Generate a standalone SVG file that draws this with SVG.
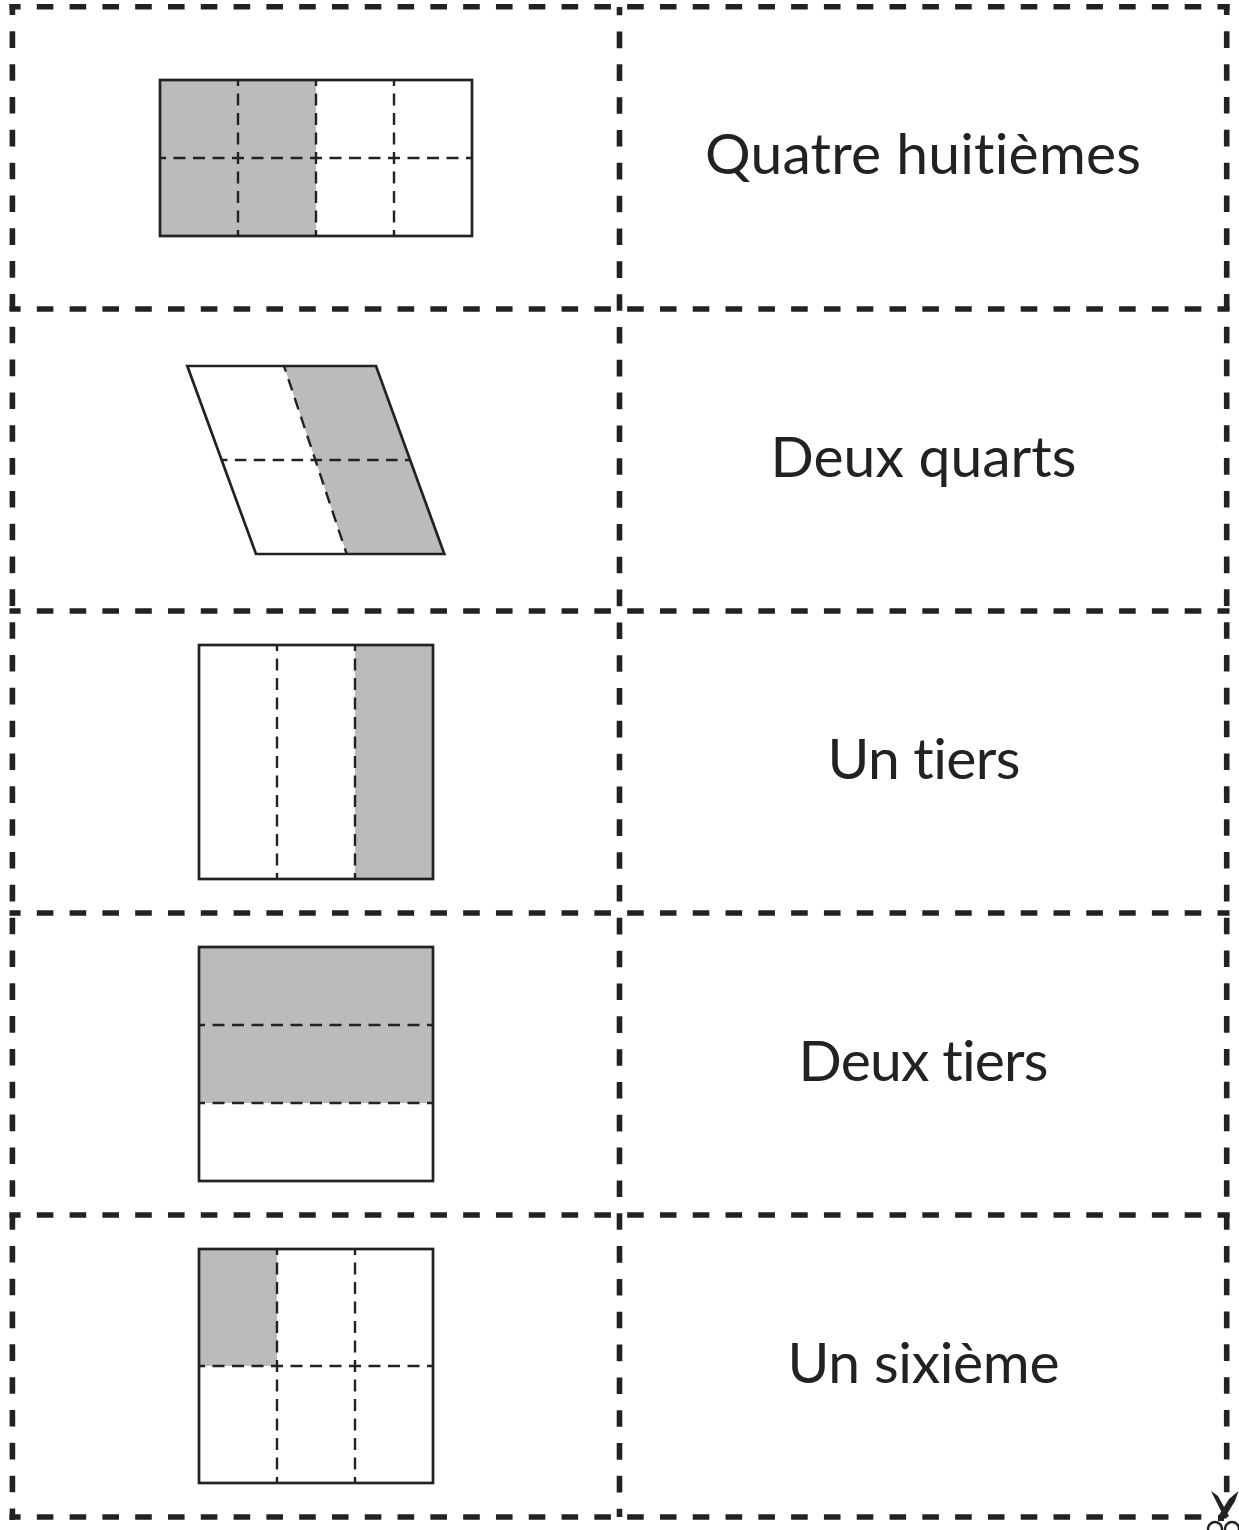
<svg xmlns="http://www.w3.org/2000/svg" width="1239" height="1530" viewBox="0 0 1239 1530">
<style>
.cut{fill:none;stroke:#222;stroke-width:5.6}
.h{stroke-dasharray:16.6 16.197;stroke-dashoffset:5.5}
.v{stroke-dasharray:16.6 16.226;stroke-dashoffset:5.5}
.m{stroke-dasharray:16.6 16.226;stroke-dashoffset:8.3}
.out{fill:none;stroke:#222;stroke-width:2.7}
.fold{fill:none;stroke:#222;stroke-width:2.4;stroke-dasharray:12 7.5;stroke-dashoffset:6}
.shade{fill:#bbb}
text{font-family:"Lato","Noto Sans",sans-serif;font-size:57px;fill:#222;text-anchor:middle;font-variant-ligatures:none}
</style>
<rect width="1239" height="1530" fill="#fff"/>
<g id="cut-lines" class="cut">
<path class="h" d="M9.5 6.8H1229.5M9.5 309H1229.5M9.5 611H1229.5M9.5 913H1229.5M9.5 1215H1229.5M9.5 1517H1203"/>
<path class="v" d="M12.4 4V1520M1226.7 4V1493"/>
<path class="m" d="M619.5 7V1517"/>
</g>
<g id="card1">
<rect class="shade" x="160" y="80" width="156" height="156"/>
<path class="fold" d="M238 80V236M316 80V236M394 80V236M160 158H472"/>
<rect class="out" x="160" y="80" width="312" height="156"/>
<text x="923" y="174" textLength="436">Quatre huitièmes</text>
</g>
<g id="card2">
<path class="shade" d="M284 366H376L444.3 554H346.7Z"/>
<path class="fold" style="stroke-dasharray:12 7.82" d="M284 366L346.7 554"/>
<path class="fold" style="stroke-dasharray:11.5 7.4;stroke-dashoffset:5.75" d="M221.7 460H410.7"/>
<path class="out" d="M187.3 366H376L444.3 554H256Z"/>
<text x="923.5" y="477" textLength="306">Deux quarts</text>
</g>
<g id="card3">
<rect class="shade" x="355" y="645" width="78" height="234"/>
<path class="fold" d="M277 645V879M355 645V879"/>
<rect class="out" x="199" y="645" width="234" height="234"/>
<text x="924" y="779" textLength="193">Un tiers</text>
</g>
<g id="card4">
<rect class="shade" x="199" y="947" width="234" height="156"/>
<path class="fold" d="M199 1025H433M199 1103H433"/>
<rect class="out" x="199" y="947" width="234" height="234"/>
<text x="923.5" y="1081" textLength="250">Deux tiers</text>
</g>
<g id="card5">
<rect class="shade" x="199" y="1249" width="78" height="117"/>
<path class="fold" d="M277 1249V1483M355 1249V1483M199 1366H433"/>
<rect class="out" x="199" y="1249" width="234" height="234"/>
<text x="923.5" y="1383" textLength="272">Un sixième</text>
</g>
<g id="scissors">
<path fill="#222" d="M1211 1491L1218 1496L1229 1516L1225 1519ZM1238.5 1491L1235 1501L1224 1519L1219 1515L1229 1499ZM1218 1515H1224V1521H1218Z"/>
<ellipse cx="1215" cy="1529" rx="7" ry="7" fill="none" stroke="#222" stroke-width="2.4"/>
<ellipse cx="1232" cy="1529" rx="7" ry="7" fill="none" stroke="#222" stroke-width="2.4"/>
</g>
</svg>
